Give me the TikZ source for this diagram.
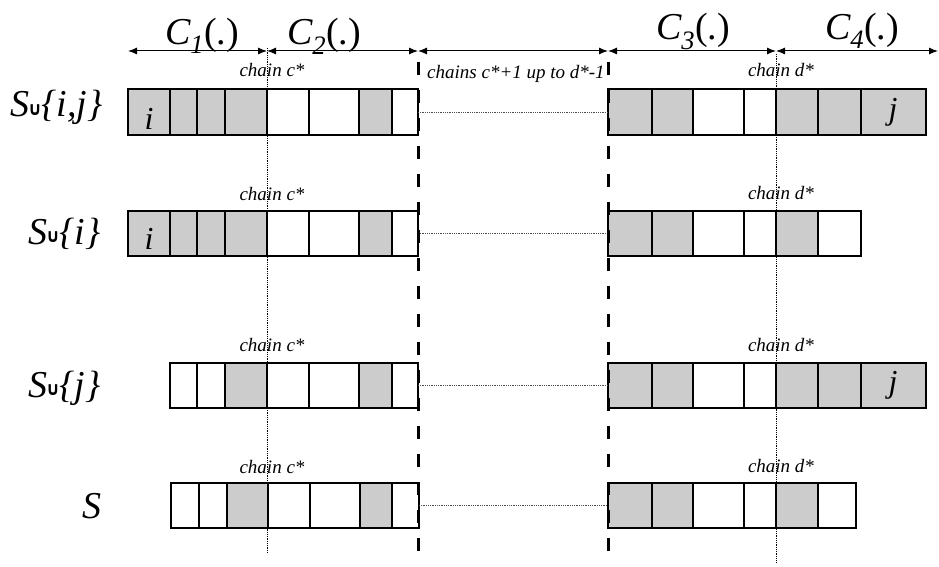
\documentclass[tikz,border=0pt]{standalone}
\usepackage{fontspec}
\setmainfont{Liberation Serif}
\newfontfamily\cupfont{DejaVu Sans}
\usetikzlibrary{arrows.meta}
\definecolor{cellgray}{RGB}{204,204,204}
\tikzset{
  cellbox/.style={draw=black, line width=1.3pt},
  guide/.style={densely dotted, line width=0.8pt},
  link/.style={densely dotted, line width=0.8pt, draw=black!70},
  sepline/.style={line width=3pt, dash pattern=on 13pt off 15pt},
  span/.style={{Latex[length=9pt,width=7pt]}-{Latex[length=9pt,width=7pt]}, line width=1pt},
  biglabel/.style={font=\fontsize{38}{38}\selectfont, inner sep=0pt},
  cellmark/.style={font=\fontsize{32}{32}\selectfont\itshape, inner sep=0pt},
  chainlabel/.style={font=\fontsize{19}{19}\selectfont\itshape, inner sep=0pt},
}
\newcommand\cellrow[3]{\foreach \xa/\xb/\cc in {#3} {\draw[cellbox, fill=\cc] (\xa,#1) rectangle (\xb,#2);}}
\newcommand\cupmark{{\cupfont\bfseries\fontsize{34}{34}\selectfont\hspace{-0.03em}\raisebox{0.05em}{\scalebox{0.5}[0.55]{∪}}\hspace{-0.02em}}}
\begin{document}
\begin{tikzpicture}[x=1pt, y=-1pt]
\useasboundingbox (0,0) rectangle (939,567);

% row 1
\cellrow{89}{135}{128/170/cellgray,170/197/cellgray,197/225/cellgray,225/267/cellgray,267/309/white,309/359/white,359/392/cellgray,392/418/white}
\cellrow{89}{135}{608/652/cellgray,652/693/cellgray,693/744/white,744/776/white,776/818/cellgray,818/861/cellgray,861/926/cellgray}
% row 2
\cellrow{211}{256}{128/170/cellgray,170/197/cellgray,197/225/cellgray,225/267/cellgray,267/309/white,309/359/white,359/392/cellgray,392/418/white}
\cellrow{211}{256}{608/652/cellgray,652/693/cellgray,693/744/white,744/776/white,776/818/cellgray,818/861/white}
% row 3
\cellrow{363}{408}{170/197/white,197/225/white,225/267/cellgray,267/309/white,309/359/white,359/392/cellgray,392/418/white}
\cellrow{363}{408}{608/652/cellgray,652/693/cellgray,693/744/white,744/776/white,776/818/cellgray,818/861/cellgray,861/926/cellgray}
% row 4
\cellrow{483}{528}{171/199/white,199/227/white,227/268/cellgray,268/310/white,310/360/white,360/392/cellgray,392/419/white}
\cellrow{483}{528}{608/652/cellgray,652/693/cellgray,693/744/white,744/776/white,776/818/cellgray,818/856/white}

% coordinates
\coordinate (a0) at (128,51);
\coordinate (a1) at (267,51);
\coordinate (a2) at (418,51);
\coordinate (a3) at (608,51);
\coordinate (a4) at (776,51);
\coordinate (a5) at (938,51);
\coordinate (ctop) at (267,48);
\coordinate (cbot) at (267,553);
\coordinate (dtop) at (776,54);
\coordinate (dbot) at (776,562);
\coordinate (s1top) at (418,62);
\coordinate (s1bot) at (418,556);
\coordinate (s2top) at (608,62);
\coordinate (s2bot) at (608,556);
\coordinate (r1L) at (418,112);
\coordinate (r1R) at (608,112);
\coordinate (r2L) at (418,233.5);
\coordinate (r2R) at (608,233.5);
\coordinate (r3L) at (418,385.5);
\coordinate (r3R) at (608,385.5);
\coordinate (r4L) at (419,505.5);
\coordinate (r4R) at (608,505.5);

% span arrows
\draw[span] (a0) -- (a1);
\draw[span] (a1) -- (a2);
\draw[span] (a2) -- (a3);
\draw[span] (a3) -- (a4);
\draw[span] (a4) -- (a5);

% guides
\draw[guide] (ctop) -- (cbot);
\draw[guide] (dtop) -- (dbot);
\draw[link] (r1L) -- (r1R);
\draw[link] (r2L) -- (r2R);
\draw[link] (r3L) -- (r3R);
\draw[link] (r4L) -- (r4R);
\draw[sepline] (s1top) -- (s1bot);
\draw[sepline] (s2top) -- (s2bot);

% headings
\node[biglabel, anchor=base] (C1) at (202,45) {\textit{C\textsubscript{1}}(.)};
\node[biglabel, anchor=base] (C2) at (324,45) {\textit{C\textsubscript{2}}(.)};
\node[biglabel, anchor=base] (C3) at (693,40) {\textit{C\textsubscript{3}}(.)};
\node[biglabel, anchor=base] (C4) at (862,40) {\textit{C\textsubscript{4}}(.)};

% chain labels
\node[chainlabel, anchor=base] (c1) at (272,77) {chain c*};
\node[chainlabel, anchor=base] (c2) at (272,200) {chain c*};
\node[chainlabel, anchor=base] (c3) at (272,351) {chain c*};
\node[chainlabel, anchor=base] (c4) at (272,473) {chain c*};
\node[chainlabel, anchor=base] (d1) at (781,77) {chain d*};
\node[chainlabel, anchor=base] (d2) at (781,199) {chain d*};
\node[chainlabel, anchor=base] (d3) at (781,351) {chain d*};
\node[chainlabel, anchor=base] (d4) at (781,472) {chain d*};
\node[chainlabel, anchor=base west] (mid) at (427,79) {chains c*+1 up to d*-1};

% row labels
\node[biglabel, anchor=base west] (L1) at (10,117) {\textit{S}\cupmark\textit{\{i,j\}}};
\node[biglabel, anchor=base west] (L2) at (28,244) {\textit{S}\cupmark\textit{\{i\}}};
\node[biglabel, anchor=base west] (L3) at (28,397) {\textit{S}\cupmark\textit{\{j\}}};
\node[biglabel, anchor=base west] (L4) at (82,518) {\textit{S}};

% marks
\node[cellmark, anchor=base] (i1) at (149,129) {i};
\node[cellmark, anchor=base] (i2) at (149,249) {i};
\node[cellmark, anchor=base] (j1) at (893,120) {j};
\node[cellmark, anchor=base] (j3) at (893,392) {j};
\end{tikzpicture}
\end{document}
